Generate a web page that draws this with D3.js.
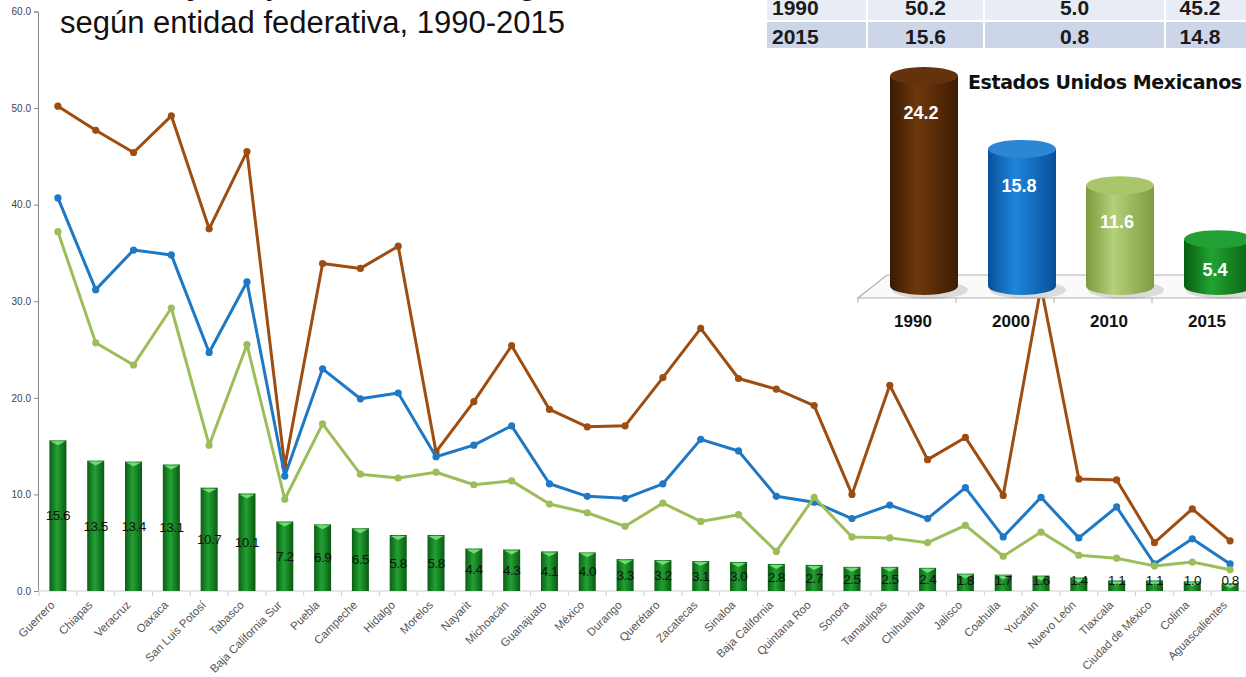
<!DOCTYPE html>
<html>
<head>
<meta charset="utf-8">
<script src="https://cdn.jsdelivr.net/npm/d3@7"></script>
<style>
  body { margin: 0; background: #fff; }
  svg { display: block; font-family: "Liberation Sans", Arial, sans-serif; }
</style>
</head>
<body>
<div id="chart"></div>
<script>
// Data
const states = ["Guerrero", "Chiapas", "Veracruz", "Oaxaca", "San Luis Potosí", "Tabasco",
  "Baja California Sur", "Puebla", "Campeche", "Hidalgo", "Morelos", "Nayarit", "Michoacán",
  "Guanajuato", "México", "Durango", "Querétaro", "Zacatecas", "Sinaloa", "Baja California",
  "Quintana Roo", "Sonora", "Tamaulipas", "Chihuahua", "Jalisco", "Coahuila", "Yucatán",
  "Nuevo León", "Tlaxcala", "Ciudad de México", "Colima", "Aguascalientes"];
const v1990 = [50.2, 47.7, 45.4, 49.2, 37.5, 45.5, 12.9, 33.9, 33.4, 35.7, 14.4, 19.6, 25.4, 18.8, 17.0, 17.1,
  22.1, 27.2, 22.0, 20.9, 19.2, 10.0, 21.3, 13.6, 15.9, 9.9, 31.5, 11.6, 11.5, 5.0, 8.5, 5.2];
const v2000 = [40.7, 31.2, 35.3, 34.8, 24.7, 32.0, 11.9, 23.0, 19.9, 20.5, 13.9, 15.1, 17.1, 11.1, 9.8, 9.6,
  11.1, 15.7, 14.5, 9.8, 9.2, 7.5, 8.9, 7.5, 10.7, 5.6, 9.7, 5.5, 8.7, 2.8, 5.4, 2.8];
const v2010 = [37.2, 25.7, 23.4, 29.3, 15.1, 25.5, 9.5, 17.3, 12.1, 11.7, 12.3, 11.0, 11.4, 9.0, 8.1, 6.7,
  9.1, 7.2, 7.9, 4.1, 9.7, 5.6, 5.5, 5.0, 6.8, 3.6, 6.1, 3.7, 3.4, 2.6, 3.0, 2.2];
const v2015 = [15.6, 13.5, 13.4, 13.1, 10.7, 10.1, 7.2, 6.9, 6.5, 5.8, 5.8, 4.4, 4.3, 4.1, 4.0, 3.3,
  3.2, 3.1, 3.0, 2.8, 2.7, 2.5, 2.5, 2.4, 1.8, 1.7, 1.6, 1.4, 1.1, 1.1, 1.0, 0.8];
const yTicks = [0, 10, 20, 30, 40, 50, 60];

// national inset
const natYears = ["1990", "2000", "2010", "2015"];
const natValues = [24.2, 15.8, 11.6, 5.4];

// summary table (year, max, min, difference)
const tableYears = ["1990", "2015"];
const tableMax = ["50.2", "15.6"];
const tableMin = ["5.0", "0.8"];
const tableDiff = ["45.2", "14.8"];

const width = 1246, height = 677;

const svg = d3.select("#chart").append("svg")
  .attr("width", width)
  .attr("height", height);

const defs = svg.append("defs");

function hGrad(id, stops) {
  const g = defs.append("linearGradient").attr("id", id)
    .attr("x1", "0%").attr("x2", "100%").attr("y1", "0%").attr("y2", "0%");
  stops.forEach(s => g.append("stop").attr("offset", s[0]).attr("stop-color", s[1]));
}
hGrad("gBar", [["0%", "#0b5e14"], ["45%", "#22a134"], ["100%", "#0a5a12"]]);
hGrad("gBrown", [["0%", "#3a1a02"], ["40%", "#6e380c"], ["100%", "#3e1c03"]]);
hGrad("gBlue", [["0%", "#0b4f9a"], ["40%", "#1d86dc"], ["100%", "#0a4f98"]]);
hGrad("gLight", [["0%", "#7b9a3c"], ["40%", "#b5d07a"], ["100%", "#7d9c3e"]]);
hGrad("gDark", [["0%", "#075e10"], ["40%", "#21a332"], ["100%", "#08600f"]]);

// Title (first line runs off the top of the picture)
svg.append("text")
  .attr("x", 60).attr("y", -5)
  .attr("font-size", 30).attr("font-weight", "bold").attr("fill", "#111")
  .text("Porcentaje de población en rezago educativo");
svg.append("text")
  .attr("x", 60).attr("y", 33)
  .attr("font-size", 31).attr("fill", "#111")
  .text("según entidad federativa, 1990-2015");

// Scales
const x = d3.scaleBand().domain(states).range([39, 1249]).paddingInner(0.55).paddingOuter(0.275);
const xStep = d3.scaleBand().domain(states).range([39, 1249]);
const y = d3.scaleLinear().domain([0, 60]).range([591, 11.5]);

// y axis
const yAxis = svg.append("g")
  .attr("transform", "translate(38,0)")
  .call(d3.axisLeft(y).tickValues(yTicks).tickFormat(d3.format(".1f")).tickSize(4));
yAxis.select(".domain").attr("stroke", "#888");
yAxis.selectAll(".tick line").attr("stroke", "#888");
yAxis.selectAll(".tick text").attr("font-size", 10).attr("fill", "#444")
  .attr("font-family", "Liberation Sans, Arial, sans-serif");

// x axis
svg.append("line").attr("x1", 38).attr("x2", 1249).attr("y1", 591).attr("y2", 591)
  .attr("stroke", "#d0d0d0");
svg.append("g").selectAll("line")
  .data(states)
  .join("line")
    .attr("x1", d => xStep(d)).attr("x2", d => xStep(d))
    .attr("y1", 591).attr("y2", 596)
    .attr("stroke", "#d0d0d0");
svg.append("g").selectAll("text")
  .data(states)
  .join("text")
    .attr("transform", d => `translate(${xStep(d) + xStep.bandwidth() / 2 - 8},${600}) rotate(-45)`)
    .attr("text-anchor", "end")
    .attr("dy", "0.7em")
    .attr("font-size", 11.5).attr("fill", "#555")
    .text(d => d);

// bars (2015)
const bars = svg.append("g");
bars.selectAll("rect.bar")
  .data(v2015)
  .join("rect")
    .attr("class", "bar")
    .attr("x", (d, i) => x(states[i]))
    .attr("y", d => y(d))
    .attr("width", x.bandwidth())
    .attr("height", d => y(0) - y(d))
    .attr("fill", "url(#gBar)");
bars.selectAll("path.cap")
  .data(v2015)
  .join("path")
    .attr("class", "cap")
    .attr("d", (d, i) => {
      const x0 = x(states[i]), w = x.bandwidth(), yt = y(d);
      return `M${x0 + 1},${yt + 1}L${x0 + w - 1},${yt + 1}L${x0 + w / 2},${yt + 5}Z`;
    })
    .attr("fill", "#6fdc74");
bars.selectAll("text")
  .data(v2015)
  .join("text")
    .attr("x", (d, i) => x(states[i]) + x.bandwidth() / 2)
    .attr("y", d => y(Math.max(d / 2, 1.15)))
    .attr("dy", "0.35em")
    .attr("text-anchor", "middle")
    .attr("font-size", 13.5).attr("fill", "#111")
    .attr("letter-spacing", -0.5)
    .text(d => d.toFixed(1));

// lines
const lineSeries = [
  { values: v1990, color: "#9e4d10" },
  { values: v2000, color: "#1f78c4" },
  { values: v2010, color: "#9cbd5a" }
];
const line = d3.line()
  .x((d, i) => xStep(states[i]) + xStep.bandwidth() / 2)
  .y(d => y(d));
lineSeries.forEach(s => {
  svg.append("path")
    .datum(s.values)
    .attr("d", line)
    .attr("fill", "none")
    .attr("stroke", s.color)
    .attr("stroke-width", 3)
    .attr("stroke-linejoin", "round");
  svg.append("g").selectAll("circle")
    .data(s.values)
    .join("circle")
      .attr("cx", (d, i) => xStep(states[i]) + xStep.bandwidth() / 2)
      .attr("cy", d => y(d))
      .attr("r", 3.6)
      .attr("fill", s.color);
});

// Summary table (top right)
const tbl = svg.append("g");
const colX = [766, 867, 984, 1165, 1250];
const rowY = [-10, 21, 49];
tableYears.forEach((yr, r) => {
  const cells = [yr, tableMax[r], tableMin[r], tableDiff[r]];
  cells.forEach((c, k) => {
    tbl.append("rect")
      .attr("x", colX[k]).attr("y", rowY[r])
      .attr("width", colX[k + 1] - colX[k]).attr("height", rowY[r + 1] - rowY[r])
      .attr("fill", r === 0 ? "#e8ecf4" : "#cdd5e8")
      .attr("stroke", "#fff").attr("stroke-width", 2);
    tbl.append("text")
      .attr("x", k === 0 ? colX[0] + 6 : (k === 3 ? 1200 : (colX[k] + colX[k + 1]) / 2))
      .attr("y", r === 0 ? 15 : 44)
      .attr("text-anchor", k === 0 ? "start" : "middle")
      .attr("font-size", 21).attr("font-weight", "bold").attr("fill", "#1a1a1a")
      .text(c);
  });
});

// National inset (cylinders)
const inset = svg.append("g");
const xi = d3.scaleBand().domain(natYears).range([875, 1267]);
const yi = d3.scaleLinear().domain([0, 24.2]).range([286, 76]);
const cylFill = ["url(#gBrown)", "url(#gBlue)", "url(#gLight)", "url(#gDark)"];
const cylTop = ["#64320c", "#2b86d4", "#a9c66a", "#23a034"];

// floor
inset.append("path")
  .attr("d", "M858,298L887,275L1246,275L1246,298Z")
  .attr("fill", "#fafafa").attr("stroke", "none");
inset.append("path")
  .attr("d", "M1246,275L887,275L858,298L1246,298")
  .attr("fill", "none").attr("stroke", "#b0b0b0").attr("stroke-width", 1.2);
inset.selectAll("line.ft")
  .data(natYears)
  .join("line")
    .attr("class", "ft")
    .attr("x1", d => xi(d) - 17).attr("x2", d => xi(d) - 17)
    .attr("y1", 298).attr("y2", 303)
    .attr("stroke", "#b0b0b0");

const cw = 68, ery = 9;
natValues.forEach((v, i) => {
  const cx = xi(natYears[i]) + xi.bandwidth() / 2;
  const top = yi(v), bot = yi(0);
  const g = inset.append("g");
  g.append("ellipse").attr("cx", cx + 6).attr("cy", bot + 4).attr("rx", cw / 2 + 4).attr("ry", ery)
    .attr("fill", "#000").attr("opacity", 0.12);
  g.append("rect").attr("x", cx - cw / 2).attr("y", top).attr("width", cw).attr("height", bot - top)
    .attr("fill", cylFill[i]);
  g.append("ellipse").attr("cx", cx).attr("cy", bot).attr("rx", cw / 2).attr("ry", ery)
    .attr("fill", cylFill[i]);
  g.append("ellipse").attr("cx", cx).attr("cy", top).attr("rx", cw / 2).attr("ry", ery)
    .attr("fill", cylTop[i]);
  g.append("text")
    .attr("x", cx - 3).attr("y", Math.min(top + 43, bot - 10))
    .attr("text-anchor", "middle")
    .attr("font-size", 18).attr("font-weight", "bold").attr("fill", "#fff")
    .text(v.toFixed(1));
});

inset.selectAll("text.yr")
  .data(natYears)
  .join("text")
    .attr("class", "yr")
    .attr("x", d => xi(d) + xi.bandwidth() / 2 - 11)
    .attr("y", 327)
    .attr("text-anchor", "middle")
    .attr("font-size", 17).attr("font-weight", "bold").attr("fill", "#111")
    .text(d => d);

inset.append("text")
  .attr("x", 968).attr("y", 89)
  .attr("font-size", 19).attr("font-weight", "bold").attr("fill", "#111")
  .attr("font-family", "DejaVu Sans, Verdana, sans-serif")
  .attr("letter-spacing", -0.4)
  .text("Estados Unidos Mexicanos");
</script>
</body>
</html>
